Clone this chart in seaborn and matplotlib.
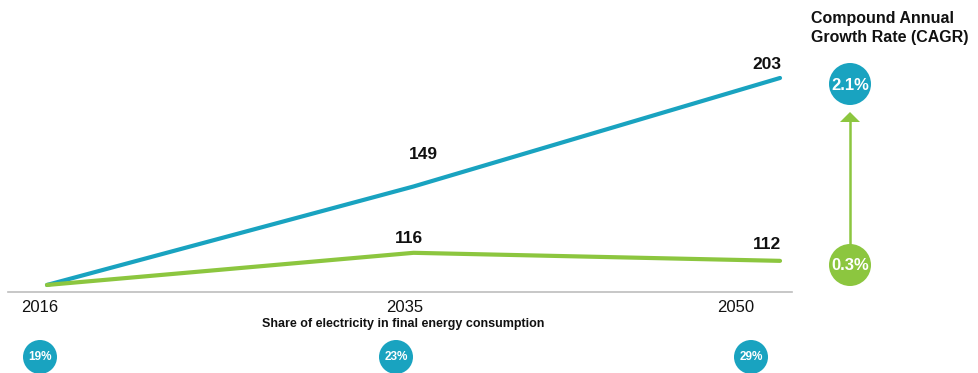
import matplotlib
matplotlib.use("Agg")
import matplotlib.pyplot as plt
import matplotlib.patches as mpatches
from matplotlib.transforms import ScaledTranslation
import seaborn as sns
import pandas as pd

# ---- data ----
years = ["2016", "2035", "2050"]
electricity = [100, 149, 203]
final_energy = [100, 116, 112]
shown_labels_elec = ["149", "203"]
shown_labels_fe = ["116", "112"]
share_electricity = ["19%", "23%", "29%"]
cagr_labels = ["2.1%", "0.3%"]
series_names = ["Electricity consumption", "Final energy consumption"]

BLUE = "#19a3c0"
GREEN = "#8cc63f"

sns.set_theme(style="white")
plt.rcParams["font.family"] = ["Liberation Sans", "DejaVu Sans"]

W, H = 979, 373
fig = plt.figure(figsize=(W / 100, H / 100), dpi=100)

# main axes: spine from px 8 to 792, bottom at px 292
ax = fig.add_axes([8 / W, (H - 292) / H, 784 / W, 292 / H])

pos = list(range(len(years)))
df = pd.DataFrame({
    "pos": pos * 2,
    "value": electricity + final_energy,
    "series": [series_names[0]] * 3 + [series_names[1]] * 3,
})
sns.lineplot(data=df, x="pos", y="value", hue="series",
             palette=[BLUE, GREEN], linewidth=3.0, legend=False, ax=ax,
             solid_capstyle="round")

ax.set_xlim(-0.1064, 2.0327)
ax.set_ylim(96.5, 241.8)
ax.set_xlabel("")
ax.set_ylabel("")
ax.set_yticks([])
for s in ["top", "left", "right"]:
    ax.spines[s].set_visible(False)
ax.spines["bottom"].set_color("#bdbdbd")
ax.spines["bottom"].set_linewidth(1.2)

ax.set_xticks(pos)
ax.set_xticklabels(years, fontsize=12, color="#111111")
ax.tick_params(axis="x", length=0, pad=6)
label_shift_px = [-7, -9, -44]
for lbl, dx in zip(ax.get_xticklabels(), label_shift_px):
    lbl.set_transform(lbl.get_transform() + ScaledTranslation(dx / 100, 0, fig.dpi_scale_trans))

# value labels
elec_offsets = [(10, 32), (-13, 13.5)]
for i, (txt, off) in enumerate(zip(shown_labels_elec, elec_offsets)):
    ax.annotate(txt, (pos[i + 1], electricity[i + 1]), xytext=off, textcoords="offset pixels",
                ha="center", va="center", fontsize=12.5, fontweight="bold", color="#111111")
fe_offsets = [(-5, 14), (-13, 16.5)]
for i, (txt, off) in enumerate(zip(shown_labels_fe, fe_offsets)):
    ax.annotate(txt, (pos[i + 1], final_energy[i + 1]), xytext=off, textcoords="offset pixels",
                ha="center", va="center", fontsize=12.5, fontweight="bold", color="#111111")

# overlay in pixel coordinates
ov = fig.add_axes([0, 0, 1, 1], facecolor="none")
ov.set_xlim(0, W)
ov.set_ylim(H, 0)
ov.axis("off")

ov.text(403, 324, "Share of electricity in final energy consumption", ha="center", va="center",
        fontsize=9, fontweight="bold", color="#111111")

for cx, lab in zip([40, 396, 751], share_electricity):
    ov.add_patch(mpatches.Circle((cx, 357), 17, color=BLUE, lw=0))
    ov.text(cx, 357, lab, ha="center", va="center", fontsize=8.5, fontweight="bold", color="white")

ov.text(811, 11, "Compound Annual\nGrowth Rate (CAGR)", ha="left", va="top",
        fontsize=11.5, fontweight="bold", color="#111111", linespacing=1.3)

ov.add_patch(mpatches.Circle((850, 84), 21, color=BLUE, lw=0))
ov.add_patch(mpatches.Circle((850, 265), 21, color=GREEN, lw=0))
ov.plot([850, 850], [244, 120], color=GREEN, lw=1.8)
ov.add_patch(mpatches.Polygon([(840, 122), (860, 122), (850, 112)], closed=True, color=GREEN, lw=0))
ov.text(850, 85, cagr_labels[0], ha="center", va="center", fontsize=12, fontweight="bold", color="white")
ov.text(850, 266, cagr_labels[1], ha="center", va="center", fontsize=12, fontweight="bold", color="white")

fig.savefig("out.png", dpi=100)
